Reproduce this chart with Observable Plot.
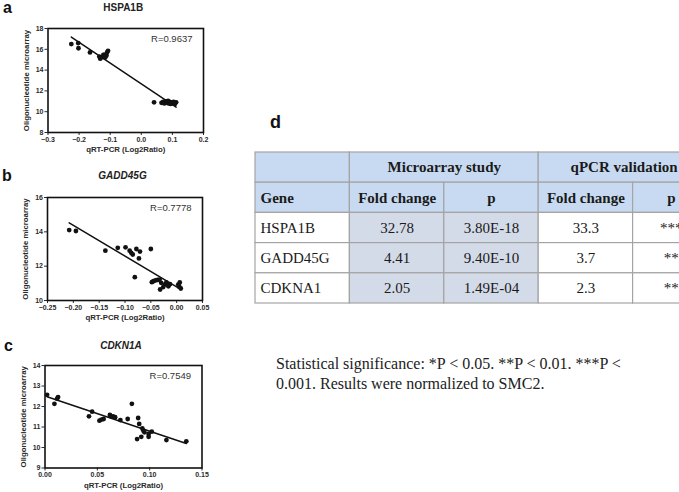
<!DOCTYPE html>
<html><head><meta charset="utf-8">
<script src="https://cdn.jsdelivr.net/npm/d3@7"></script>
<script src="https://cdn.jsdelivr.net/npm/@observablehq/plot@0.6"></script>
<style>
html,body{margin:0;padding:0;background:#fff;width:679px;height:492px;overflow:hidden;position:relative;font-family:"Liberation Sans",Arial,sans-serif;}
.abs{position:absolute;line-height:1;white-space:nowrap;}
.letter{font-weight:bold;font-size:16px;color:#111;}
.ptitle{font-weight:bold;font-size:10px;color:#222;text-align:center;width:160px;}
.caption{font-family:"Liberation Serif","Times New Roman",serif;font-size:16px;line-height:20px;color:#222;}
svg [aria-label="x-axis label"], svg [aria-label="y-axis label"]{font-size:7.8px;font-weight:bold;}
</style></head><body>
<script>
// ---------- data ----------
const xLabel = "qRT-PCR (Log2Ratio)";
const yLabel = "Oligonucleotide microarray";

const aTitle = "HSPA1B";
const aR = "0.9637";
const aX = [-0.225,-0.203,-0.202,-0.165,-0.135,-0.132,-0.124,-0.122,-0.119,-0.116,-0.112,-0.110,-0.107,0.041,0.065,0.070,0.074,0.078,0.080,0.083,0.086,0.088,0.091,0.094,0.097,0.100,0.104,0.108,0.112];
const aY = [16.5,16.6,16.1,15.7,15.3,15.1,15.25,15.45,15.45,15.2,15.4,15.7,15.85,10.9,10.85,10.95,10.8,11.0,10.9,10.85,11.05,10.8,10.95,10.75,10.9,10.8,10.95,10.75,10.9];
const aXTicks = [-0.3,-0.2,-0.1,0.0,0.1,0.2];
const aYTicks = [8,10,12,14,16,18];

const bTitle = "GADD45G";
const bR = "0.7778";
const bX = [-0.208,-0.195,-0.138,-0.114,-0.099,-0.091,-0.088,-0.085,-0.078,-0.071,-0.073,-0.081,-0.050,-0.048,-0.045,-0.041,-0.037,-0.033,-0.030,-0.032,-0.026,-0.023,-0.020,-0.016,-0.013,0.003,0.006,0.008,0.005];
const bY = [14.1,14.05,12.9,13.07,13.1,12.9,12.78,12.68,13.0,12.85,12.45,11.36,13.0,11.07,11.12,11.17,11.2,11.22,11.03,10.64,10.78,10.93,11.05,10.83,10.95,10.93,11.05,10.7,10.8];
const bXTicks = [-0.25,-0.20,-0.15,-0.10,-0.05,0.00,0.05];
const bYTicks = [10,12,14,16];

const cTitle = "CDKN1A";
const cR = "0.7549";
const cX = [0.002,0.009,0.0116,0.0125,0.042,0.045,0.052,0.054,0.056,0.062,0.063,0.065,0.067,0.072,0.079,0.083,0.089,0.090,0.088,0.092,0.093,0.094,0.095,0.099,0.099,0.102,0.116,0.135];
const cY = [12.57,12.13,12.38,12.46,11.52,11.75,11.31,11.36,11.39,11.59,11.52,11.52,11.48,11.34,11.39,12.13,11.44,11.15,10.41,10.52,10.93,10.82,10.74,10.66,10.52,10.77,10.36,10.3];
const cXTicks = [0.00,0.05,0.10,0.15];
const cYTicks = [9,10,11,12,13,14];

// table
const groupHeaders = ["", "Microarray study", "qPCR validation"];
const colHeaders = ["Gene", "Fold change", "p", "Fold change", "p"];
const genes = ["HSPA1B", "GADD45G", "CDKNA1"];
const microFold = [32.78, 4.41, 2.05];
const microP = ["3.80E-18", "9.40E-10", "1.49E-04"];
const qpcrFold = [33.3, 3.7, 2.3];
const qpcrP = ["***", "**", "**"];
const captionLines = ["Statistical significance: *P < 0.05. **P < 0.01. ***P <", "0.001. Results were normalized to SMC2."];

// ---------- layout helpers ----------
function place(el, left, top) {
  el.style.position = "absolute";
  el.style.left = left + "px";
  el.style.top = top + "px";
  document.body.appendChild(el);
  return el;
}
function label(text, cls, left, top, extra) {
  const d = document.createElement("div");
  d.className = "abs " + cls;
  d.textContent = text;
  if (extra) Object.assign(d.style, extra);
  return place(d, left, top);
}

function scatter(o) {
  const data = o.xs.map((x, i) => ({x, y: o.ys[i]}));
  const W = 215, mt = 10, mb = 30;
  const fh = o.frameBottom - o.frameTop;
  const svg = Plot.plot({
    width: W, height: mt + fh + mb,
    marginLeft: o.frameLeft, marginRight: W - o.frameRight, marginTop: mt, marginBottom: mb,
    style: {fontFamily: "Liberation Sans, Arial, sans-serif", fontSize: "7px", fontWeight: "bold", color: "#2a2a2a", background: "transparent", overflow: "visible"},
    x: {domain: [o.xTicks[0], o.xTicks[o.xTicks.length - 1]], ticks: o.xTicks, tickFormat: d3.format(o.xFmt), label: xLabel, labelArrow: "none", labelAnchor: "center", labelOffset: 19.5, tickSize: 3, tickPadding: 1.5},
    y: {domain: [o.yTicks[0], o.yTicks[o.yTicks.length - 1]], ticks: o.yTicks, tickFormat: d => String(d), label: yLabel, labelArrow: "none", labelAnchor: "center", labelOffset: 25, tickSize: 3, tickPadding: 1.5},
    marks: [
      Plot.frame({stroke: "#111", strokeWidth: 1.6}),
      Plot.linearRegressionY(data, {x: "x", y: "y", ci: 0, stroke: "#111", strokeWidth: 1.5}),
      Plot.dot(data, {x: "x", y: "y", r: 2.4, fill: "#111", stroke: "none"}),
      Plot.text([o.r], {frameAnchor: "top-right", text: d => "R=" + d, textAnchor: "end", lineAnchor: "middle", dx: -11, dy: 10, fontSize: 9.5, fontWeight: "normal", fill: "#333"})
    ]
  });
  place(svg, 0, o.frameTop - mt);
  label(o.title, "ptitle", (o.frameLeft + o.frameRight) / 2 - 82, o.titleY - 5, o.italic ? {fontStyle: "italic"} : null);
  label(o.letter, "letter", o.letterX, o.titleY - 8);
}

scatter({xs: aX, ys: aY, xTicks: aXTicks, yTicks: aYTicks, xFmt: ".1f", r: aR, title: aTitle, italic: false, letter: "a", letterX: 3,
  frameLeft: 47.5, frameRight: 203, frameTop: 28, frameBottom: 132, titleY: 8});
scatter({xs: bX, ys: bY, xTicks: bXTicks, yTicks: bYTicks, xFmt: ".2f", r: bR, title: bTitle, italic: true, letter: "b", letterX: 2,
  frameLeft: 47, frameRight: 202, frameTop: 197, frameBottom: 300, titleY: 176});
scatter({xs: cX, ys: cY, xTicks: cXTicks, yTicks: cYTicks, xFmt: ".2f", r: cR, title: cTitle, italic: true, letter: "c", letterX: 4,
  frameLeft: 44.5, frameRight: 201.5, frameTop: 365, frameBottom: 467.5, titleY: 346});

// ---------- table (drawn with Plot) ----------
const headBlue = "#c8daf1", dataBlue = "#d4dbe8", white = "#ffffff";
const colEdges = [0, 94.4, 188.8, 283.2, 377.6, 454];   // layout: column boundaries in px
const cells = [];
const spans = [[0, 1], [1, 3], [3, 5]];
groupHeaders.forEach((t, i) => cells.push({c0: spans[i][0], c1: spans[i][1], r: 0, text: t, fill: headBlue, bold: true, left: false}));
colHeaders.forEach((t, i) => cells.push({c0: i, c1: i + 1, r: 1, text: t, fill: headBlue, bold: true, left: i === 0}));
genes.forEach((g, j) => {
  const vals = [g, microFold[j].toFixed(2), microP[j], qpcrFold[j].toFixed(1), qpcrP[j]];
  vals.forEach((t, i) => cells.push({c0: i, c1: i + 1, r: j + 2, text: t, fill: (i === 1 || i === 2) ? dataBlue : white, bold: false, left: i === 0}));
});
const X0 = d => colEdges[d.c0], X1 = d => colEdges[d.c1], XM = d => (colEdges[d.c0] + colEdges[d.c1]) / 2;
const tW = 460, tH = 153;
const table = Plot.plot({
  width: tW, height: tH, margin: 0,
  style: {fontFamily: "Liberation Serif, Times New Roman, serif", fontSize: "15px", color: "#1a1a1a", background: "transparent", overflow: "visible"},
  x: {domain: [0, 454], range: [1, 455], axis: null},
  y: {domain: [0, 5], range: [1, 152], axis: null},
  marks: [
    Plot.rect(cells, {x1: X0, x2: X1, y1: "r", y2: d => d.r + 1, fill: "fill", stroke: "#a4a4a4", strokeWidth: 1.2}),
    Plot.text(cells.filter(d => d.left && d.bold), {x: X0, y: d => d.r + 0.5, text: "text", textAnchor: "start", dx: 5, fontWeight: "bold", fill: "#1a1a1a"}),
    Plot.text(cells.filter(d => d.left && !d.bold), {x: X0, y: d => d.r + 0.5, text: "text", textAnchor: "start", dx: 5, fill: "#1a1a1a"}),
    Plot.text(cells.filter(d => !d.left && d.bold), {x: XM, y: d => d.r + 0.5, text: "text", fontWeight: "bold", fill: "#1a1a1a"}),
    Plot.text(cells.filter(d => !d.left && !d.bold), {x: XM, y: d => d.r + 0.5, text: "text", fill: "#1a1a1a"})
  ]
});
place(table, 254, 150.5);
label("d", "letter", 270, 113, {fontSize: "18px"});

const cap = document.createElement("div");
cap.className = "caption";
captionLines.forEach((t, i) => { if (i) cap.appendChild(document.createElement("br")); cap.appendChild(document.createTextNode(t)); });
place(cap, 276, 354);
</script>
</body></html>
